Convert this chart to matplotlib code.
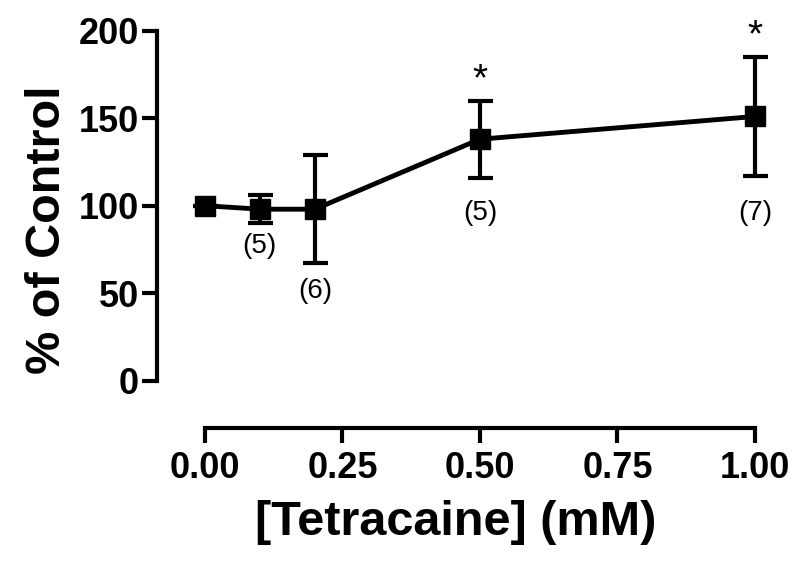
import numpy as np
import matplotlib.pyplot as plt

plt.rcParams['font.family'] = ['Liberation Sans', 'DejaVu Sans']

# tetracaine concentration (mM) and response (% of control)
conc = np.array([0.0, 0.1, 0.2, 0.5, 1.0])
pct = np.array([100, 98, 98, 138, 151])
err = np.array([0, 8, 31, 22, 34])
n_labels = ['', '(5)', '(6)', '(5)', '(7)']
n_label_y = [None, 77, 51, 96, 96]
signif = [False, False, False, True, True]

xticks = [0.00, 0.25, 0.50, 0.75, 1.00]
yticks = [0, 50, 100, 150, 200]

fig = plt.figure(figsize=(7.99, 5.69), dpi=100)
ax = fig.add_axes([0.1965, 0.248, 0.7484, 0.698])

ax.errorbar(conc, pct, yerr=err, color='black', lw=3.5, marker='s', ms=15,
            elinewidth=3, capsize=9, capthick=3, clip_on=False, zorder=3)

for x, lab, ly in zip(conc, n_labels, n_label_y):
    if lab:
        ax.text(x, ly, lab, ha='center', va='center', fontsize=20)

for x, y, e, s in zip(conc, pct, err, signif):
    if s:
        ax.annotate('*', (x, y + e), xytext=(0, 2), textcoords='offset points',
                    ha='center', va='bottom', fontsize=28)

ax.set_xlim(-0.087, 1.0)
ax.set_ylim(-27, 200)
ax.spines['top'].set_visible(False)
ax.spines['right'].set_visible(False)
ax.spines['left'].set_bounds(0, 200)
ax.spines['bottom'].set_bounds(0, 1.0)
for sp in ['left', 'bottom']:
    ax.spines[sp].set_linewidth(3)

ax.set_xticks(xticks)
ax.set_xticklabels(['%.2f' % t for t in xticks])
ax.set_yticks(yticks)
ax.tick_params(width=3, length=11, labelsize=26)
ax.tick_params(axis='x', pad=6)
ax.tick_params(axis='y', pad=2)
for lab in ax.get_xticklabels() + ax.get_yticklabels():
    lab.set_fontweight('bold')

ax.set_xlabel('[Tetracaine] (mM)', fontsize=35, fontweight='bold', labelpad=10)
ax.set_ylabel('% of Control', fontsize=35, fontweight='bold', labelpad=6)

fig.savefig('out.png', dpi=100)
